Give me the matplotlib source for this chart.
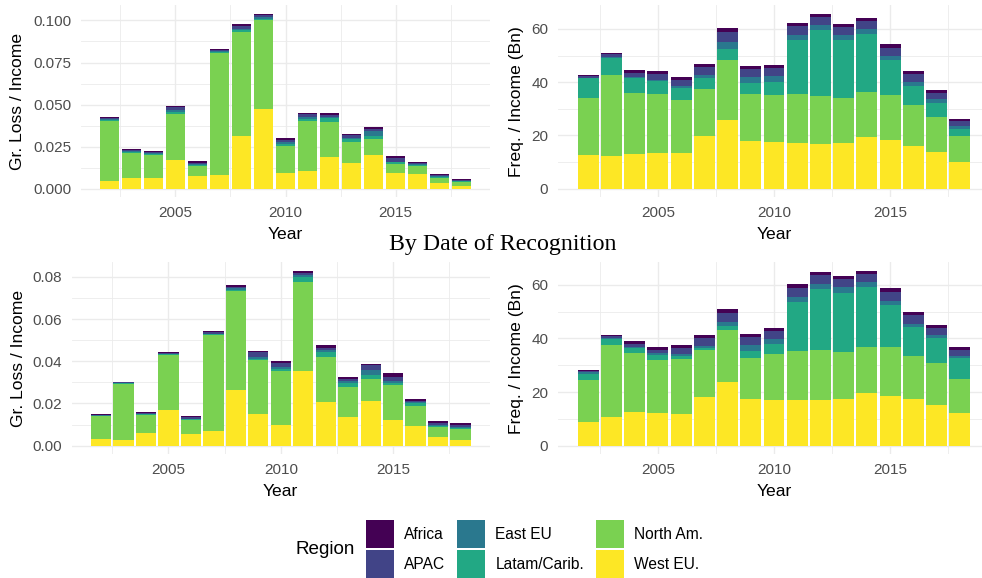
import numpy as np
import matplotlib
matplotlib.use("Agg")
import matplotlib.pyplot as plt
from matplotlib.patches import Patch
from matplotlib.ticker import MultipleLocator, FormatStrFormatter

plt.rcParams['font.family'] = ['Liberation Sans', 'DejaVu Sans']

years = list(range(2002, 2019))

# stacking order, bottom to top
regions = ['West EU.', 'North Am.', 'Latam/Carib.', 'East EU', 'APAC', 'Africa']
colors = {'Africa': '#440154', 'APAC': '#414487', 'East EU': '#2A788E',
          'Latam/Carib.': '#22A884', 'North Am.': '#7AD151', 'West EU.': '#FDE725'}

# gross loss / income, top row (one row per region, same order as `regions`)
loss_top = [
    [0.0046, 0.0063, 0.0063, 0.0171, 0.0075, 0.0083, 0.0313, 0.0476, 0.0093, 0.0105, 0.0190, 0.0153, 0.0202, 0.0093, 0.0087, 0.0036, 0.0016],
    [0.0357, 0.0149, 0.0139, 0.0274, 0.0060, 0.0726, 0.0621, 0.0528, 0.0163, 0.0300, 0.0206, 0.0125, 0.0095, 0.0056, 0.0050, 0.0030, 0.0024],
    [0.0008, 0.0008, 0.0006, 0.0012, 0.0006, 0.0006, 0.0008, 0.0006, 0.0010, 0.0012, 0.0024, 0.0016, 0.0018, 0.0008, 0.0006, 0.0004, 0.0004],
    [0.0006, 0.0004, 0.0004, 0.0008, 0.0004, 0.0004, 0.0006, 0.0008, 0.0010, 0.0012, 0.0008, 0.0008, 0.0028, 0.0004, 0.0004, 0.0004, 0.0002],
    [0.0006, 0.0006, 0.0006, 0.0018, 0.0010, 0.0006, 0.0018, 0.0014, 0.0016, 0.0012, 0.0012, 0.0016, 0.0014, 0.0022, 0.0006, 0.0008, 0.0006],
    [0.0004, 0.0006, 0.0006, 0.0010, 0.0008, 0.0006, 0.0012, 0.0008, 0.0010, 0.0010, 0.0010, 0.0008, 0.0010, 0.0014, 0.0006, 0.0008, 0.0006],
]

# frequency / income (Bn), top row
freq_top = [
    [12.7, 12.3, 13.1, 13.4, 13.4, 19.8, 25.9, 17.9, 17.6, 17.2, 16.8, 17.2, 19.5, 18.3, 16.1, 13.8, 10.0],
    [21.5, 30.5, 23.0, 22.2, 20.0, 17.7, 22.6, 17.7, 17.7, 18.4, 18.1, 16.9, 16.9, 16.9, 15.4, 13.2, 9.8],
    [7.2, 6.1, 5.4, 5.0, 4.3, 4.1, 4.1, 4.1, 4.9, 20.3, 24.8, 21.8, 21.8, 13.2, 7.2, 5.3, 2.6],
    [0.1, 0.4, 0.4, 0.4, 0.75, 1.0, 2.3, 2.3, 2.3, 1.9, 1.9, 1.9, 1.9, 1.5, 1.5, 1.5, 1.1],
    [0.9, 1.4, 1.5, 2.1, 2.5, 3.1, 3.8, 3.0, 3.0, 3.4, 3.0, 3.0, 3.0, 3.0, 3.0, 2.3, 1.9],
    [0.4, 0.4, 1.0, 1.1, 1.1, 1.1, 1.5, 1.1, 1.1, 1.1, 1.1, 1.1, 1.1, 1.5, 1.1, 1.1, 0.75],
]

# gross loss / income, by date of recognition
loss_recog = [
    [0.0032, 0.0027, 0.0060, 0.0169, 0.0055, 0.0070, 0.0264, 0.0150, 0.0098, 0.0354, 0.0207, 0.0136, 0.0212, 0.0122, 0.0093, 0.0041, 0.0027],
    [0.0107, 0.0266, 0.0087, 0.0262, 0.0068, 0.0455, 0.0469, 0.0256, 0.0256, 0.0422, 0.0213, 0.0142, 0.0104, 0.0166, 0.0095, 0.0047, 0.0052],
    [0.0003, 0.0003, 0.0003, 0.0003, 0.0002, 0.0003, 0.0006, 0.0006, 0.0009, 0.0024, 0.0024, 0.0019, 0.0019, 0.0009, 0.0014, 0.0005, 0.0005],
    [0.0002, 0.0002, 0.0002, 0.0002, 0.0002, 0.0002, 0.0006, 0.0008, 0.0009, 0.0009, 0.0009, 0.0009, 0.0024, 0.0009, 0.0005, 0.0005, 0.0005],
    [0.0003, 0.0003, 0.0003, 0.0005, 0.0008, 0.0008, 0.0009, 0.0022, 0.0022, 0.0009, 0.0009, 0.0009, 0.0024, 0.0019, 0.0005, 0.0009, 0.0009],
    [0.0002, 0.0002, 0.0005, 0.0003, 0.0006, 0.0006, 0.0006, 0.0006, 0.0006, 0.0009, 0.0014, 0.0009, 0.0005, 0.0019, 0.0009, 0.0009, 0.0009],
]

# frequency / income (Bn), by date of recognition
freq_recog = [
    [8.8, 10.7, 12.5, 12.2, 11.8, 18.1, 23.7, 17.4, 17.0, 17.0, 17.0, 17.4, 19.6, 18.5, 17.4, 15.2, 12.2],
    [15.6, 26.8, 22.0, 19.7, 20.5, 17.5, 19.4, 15.3, 17.1, 18.3, 18.6, 17.5, 17.1, 18.3, 16.0, 15.6, 12.7],
    [2.4, 2.2, 1.9, 1.9, 1.1, 0.75, 1.5, 2.6, 3.7, 18.3, 22.7, 22.0, 22.4, 15.6, 10.8, 9.3, 7.8],
    [0.5, 0.4, 0.4, 0.75, 0.75, 0.75, 1.5, 2.2, 1.9, 1.9, 1.9, 2.2, 1.9, 1.5, 1.1, 1.1, 0.75],
    [0.5, 0.75, 1.1, 1.1, 2.2, 3.0, 3.4, 3.0, 3.0, 3.4, 3.4, 3.0, 3.0, 3.4, 3.4, 2.6, 2.2],
    [0.4, 0.4, 1.1, 1.1, 1.1, 1.1, 1.5, 1.1, 1.1, 1.5, 1.1, 1.1, 1.1, 1.5, 1.1, 1.1, 1.1],
]

W, H = 982, 578
fig = plt.figure(figsize=(W / 100, H / 100), dpi=100)


def px_axes(x0, y0, x1, y1):
    # axes from pixel box (top-left origin)
    return fig.add_axes([x0 / W, 1 - y1 / H, (x1 - x0) / W, (y1 - y0) / H])


def stacked(ax, data, ylabel, major, fmt, ylab_x):
    bottom = np.zeros(len(years))
    for name, vals in zip(regions, data):
        ax.bar(years, vals, width=0.9, bottom=bottom, color=colors[name], linewidth=0)
        bottom += np.array(vals)
    top = bottom.max()
    ax.set_ylim(-0.05 * top, 1.05 * top)
    ax.set_xlim(2001.55 - 0.845, 2018.45 + 0.845)

    ax.xaxis.set_major_locator(MultipleLocator(5))
    ax.xaxis.set_minor_locator(MultipleLocator(2.5))
    ax.yaxis.set_major_locator(MultipleLocator(major))
    ax.yaxis.set_minor_locator(MultipleLocator(major / 2))
    ax.yaxis.set_major_formatter(FormatStrFormatter(fmt))
    ax.grid(True, which='major', color='#EBEBEB', linewidth=1.0)
    ax.grid(True, which='minor', color='#EBEBEB', linewidth=0.6)
    ax.set_axisbelow(True)
    for s in ax.spines.values():
        s.set_visible(False)
    ax.tick_params(which='both', length=0, labelsize=11, labelcolor='#4D4D4D')
    ax.tick_params(axis='x', pad=6)
    ax.tick_params(axis='y', pad=7)

    ax.set_xlabel('Year', fontsize=12.6, labelpad=5)
    ax.set_ylabel(ylabel, fontsize=12.6, va='center')
    # place the y title at a fixed pixel column
    bb = ax.get_position()
    ax.yaxis.set_label_coords((ylab_x / W - bb.x0) / bb.width, 0.5)


ax1 = px_axes(81, 5, 490, 197.4)
stacked(ax1, loss_top, 'Gr. Loss / Income', 0.025, '%.3f', 18)

ax2 = px_axes(558, 5, 990, 197.4)
stacked(ax2, freq_top, 'Freq. / Income (Bn)', 20, '%.0f', 517)

ax3 = px_axes(72, 262.4, 489.6, 454.4)
stacked(ax3, loss_recog, 'Gr. Loss / Income', 0.02, '%.2f', 18)

ax4 = px_axes(558, 262.3, 990, 454.4)
stacked(ax4, freq_recog, 'Freq. / Income (Bn)', 20, '%.0f', 517)

fig.text(503 / W, 1 - 245 / H, 'By Date of Recognition', ha='center', va='center',
         fontsize=17.2, family=['Liberation Serif', 'DejaVu Serif'])

# legend: three columns, filled column by column
legend_order = ['Africa', 'APAC', 'East EU', 'Latam/Carib.', 'North Am.', 'West EU.']
handles = [Patch(facecolor=colors[n], linewidth=0, label=n) for n in legend_order]
fig.legend(handles=handles, ncol=3, loc='center left', bbox_to_anchor=(366 / W, 1 - 549 / H),
           frameon=False, fontsize=11.2, handlelength=1.8, handleheight=2.39,
           handletextpad=0.65, columnspacing=0.77, labelspacing=0.13, borderpad=0, borderaxespad=0)
fig.text(325 / W, 1 - 550 / H, 'Region', ha='center', va='center', fontsize=13.6)

fig.savefig('out.png', dpi=100, facecolor='white')
